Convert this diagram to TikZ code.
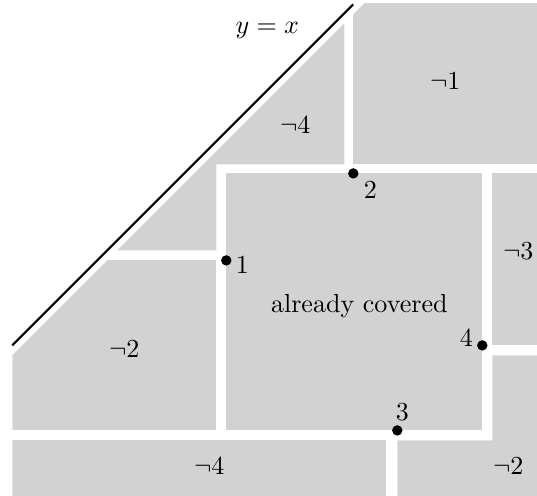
\documentclass[tikz,border=0pt]{standalone}
\begin{document}
\begin{tikzpicture}[x=0.135cm,y=0.135cm,
  region/.style={fill=gray!35},
  dot/.style={circle,fill=black,inner sep=0pt,minimum size=4pt}]
\useasboundingbox (-1.23,-14.96) rectangle (52.47,34.54);
% regions, cut below the diagonal
\begin{scope}
\clip (0,-14.96) rectangle (52.47,34.2);
\clip (0,-1) -- (36,35) -- (60,35) -- (60,-20) -- (0,-20) -- cycle;
\fill[region] (34.1,18.1) rectangle (53,35);
\fill[region] (0,9.5) -- (20.4,9.5) -- (20.4,18.1) -- (33.2,18.1) -- (33.2,35) -- (0,35) -- cycle;
\fill[region] (0,-8.5) rectangle (20.4,8.5);
\fill[region] (21.4,-8.5) rectangle (47,17.2);
\fill[region] (48,0) rectangle (53,17.2);
\fill[region] (0,-16) rectangle (37.4,-9.5);
\fill[region] (38.5,-16) -- (38.5,-9.5) -- (48,-9.5) -- (48,-1) -- (53,-1) -- (53,-16) -- cycle;
\end{scope}
\draw[thick] (0,0) -- (34.1,34.1);
\node (diag) at (25.5,31.5) {$y=x$};
% points
\node[dot] (p1) at (21.4,8.5) {};
\node[dot] (p2) at (34.1,17.2) {};
\node[dot] (p3) at (38.5,-8.5) {};
\node[dot] (p4) at (47,0) {};
\node (l1) at (23.0,8.1) {1};
\node (l2) at (35.8,15.6) {2};
\node (l3) at (39.0,-6.7) {3};
\node (l4) at (45.4,0.8) {4};
% labels
\node (covered) at (34.7,3.9) {already covered};
\node (n1) at (43.3,26.4) {$\neg 1$};
\node (n4a) at (28.3,22.0) {$\neg 4$};
\node (n2a) at (11.2,-0.4) {$\neg 2$};
\node (n3) at (50.6,9.4) {$\neg 3$};
\node (n4b) at (19.7,-12.1) {$\neg 4$};
\node (n2b) at (49.6,-12.1) {$\neg 2$};
\end{tikzpicture}
\end{document}
